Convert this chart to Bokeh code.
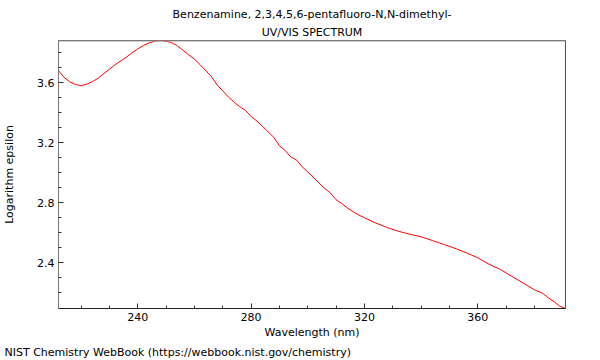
from bokeh.plotting import figure
from bokeh.models import Range1d, FixedTicker, Title, Span
from bokeh.embed import file_html
from bokeh.resources import INLINE

# --- data ---
wavelength = [212, 214, 216, 218, 220, 222, 224, 226, 228, 230, 232, 234, 236, 238,
              240, 242, 244, 246, 248, 250, 252, 254, 256, 258, 260, 262, 264, 266,
              268, 270, 272, 274, 276, 278, 280, 282, 284, 286, 288, 290, 292, 294,
              296, 298, 300, 302, 304, 306, 308, 310, 312, 314, 316, 318, 320, 324,
              328, 332, 336, 340, 344, 348, 352, 356, 360, 364, 368, 372, 376, 380,
              383, 385, 387, 389, 391]
log_eps = [3.680, 3.635, 3.605, 3.588, 3.580, 3.590, 3.607, 3.630, 3.660, 3.690,
           3.720, 3.745, 3.770, 3.800, 3.825, 3.848, 3.865, 3.876, 3.881, 3.877,
           3.866, 3.845, 3.815, 3.785, 3.757, 3.720, 3.680, 3.640, 3.585, 3.545,
           3.505, 3.470, 3.440, 3.415, 3.375, 3.345, 3.310, 3.272, 3.236, 3.180,
           3.148, 3.105, 3.085, 3.040, 3.005, 2.970, 2.930, 2.895, 2.865, 2.820,
           2.795, 2.765, 2.740, 2.718, 2.700, 2.665, 2.635, 2.610, 2.590, 2.573,
           2.548, 2.522, 2.496, 2.466, 2.433, 2.390, 2.355, 2.310, 2.265, 2.220,
           2.196, 2.165, 2.140, 2.110, 2.095]

x_major = [240, 280, 320, 360]
x_minor = [220, 230, 250, 260, 270, 290, 300, 310, 330, 340, 350, 370, 380]
y_major = [2.4, 2.8, 3.2, 3.6]
y_minor = [2.2, 2.3, 2.5, 2.6, 2.7, 2.9, 3.0, 3.1, 3.3, 3.4, 3.5, 3.7, 3.8]

title1 = "Benzenamine, 2,3,4,5,6-pentafluoro-N,N-dimethyl-"
title2 = "UV/VIS SPECTRUM"
footer = "NIST Chemistry WebBook (https://webbook.nist.gov/chemistry)"
xlabel = "Wavelength (nm)"
ylabel = "Logarithm epsilon"

FONT = "DejaVu Sans"
W, H = 600, 360
FL, FR, FT, FB = 57, 565, 40, 308

p = figure(width=W, height=H, output_backend="svg", toolbar_location=None,
           x_range=Range1d(min(wavelength), max(wavelength)),
           y_range=Range1d(min(log_eps), max(log_eps)),
           min_border_left=FL, min_border_right=W - FR,
           min_border_top=FT, min_border_bottom=H - FB)
p.background_fill_color = "white"
p.border_fill_color = "white"
p.outline_line_color = "#555555"
p.outline_line_width = 1
p.xgrid.visible = False
p.ygrid.visible = False

p.line(wavelength, log_eps, line_color="#ff0000", line_width=1)
p.add_layout(Span(location=max(log_eps), dimension="width",
                  line_color="#a0a0a0", line_width=2))

for ax in (p.xaxis[0], p.yaxis[0]):
    ax.major_tick_in = 5
    ax.major_tick_out = 0
    ax.minor_tick_in = 3
    ax.minor_tick_out = 0
    ax.major_tick_line_color = "#333333"
    ax.minor_tick_line_color = "#333333"
    ax.major_label_text_font = FONT
    ax.major_label_text_font_size = "11px"
    ax.major_label_text_color = "black"
    ax.axis_label_text_font = FONT
    ax.axis_label_text_font_size = "11px"
    ax.axis_label_text_font_style = "normal"
    ax.axis_label_text_color = "black"
p.xaxis.axis_line_color = "#222222"
p.yaxis.axis_line_color = "#777777"

p.xaxis.ticker = FixedTicker(ticks=x_major, minor_ticks=x_minor)
p.yaxis.ticker = FixedTicker(ticks=y_major, minor_ticks=y_minor)
p.xaxis.axis_label = xlabel
p.yaxis.axis_label = ylabel
p.xaxis.major_label_standoff = 4
p.xaxis.axis_label_standoff = 2
p.yaxis.major_label_standoff = 4
p.yaxis.axis_label_standoff = 18

# titles: the later-added "above" title sits nearest the frame
p.title.text = title1
p.title.align = "center"
p.title.text_font = FONT
p.title.text_font_size = "11px"
p.title.text_font_style = "normal"
p.title.text_color = "black"
p.title.standoff = 3
p.add_layout(Title(text=title2, align="center", text_font=FONT, text_font_size="11px",
                   text_font_style="normal", text_color="black", standoff=3), "above")
p.add_layout(Title(text=footer, align="left", offset=-54, text_font=FONT,
                   text_font_size="11px", text_font_style="normal",
                   text_color="black", standoff=4), "below")

open("out.html", "w").write(file_html(p, INLINE))
